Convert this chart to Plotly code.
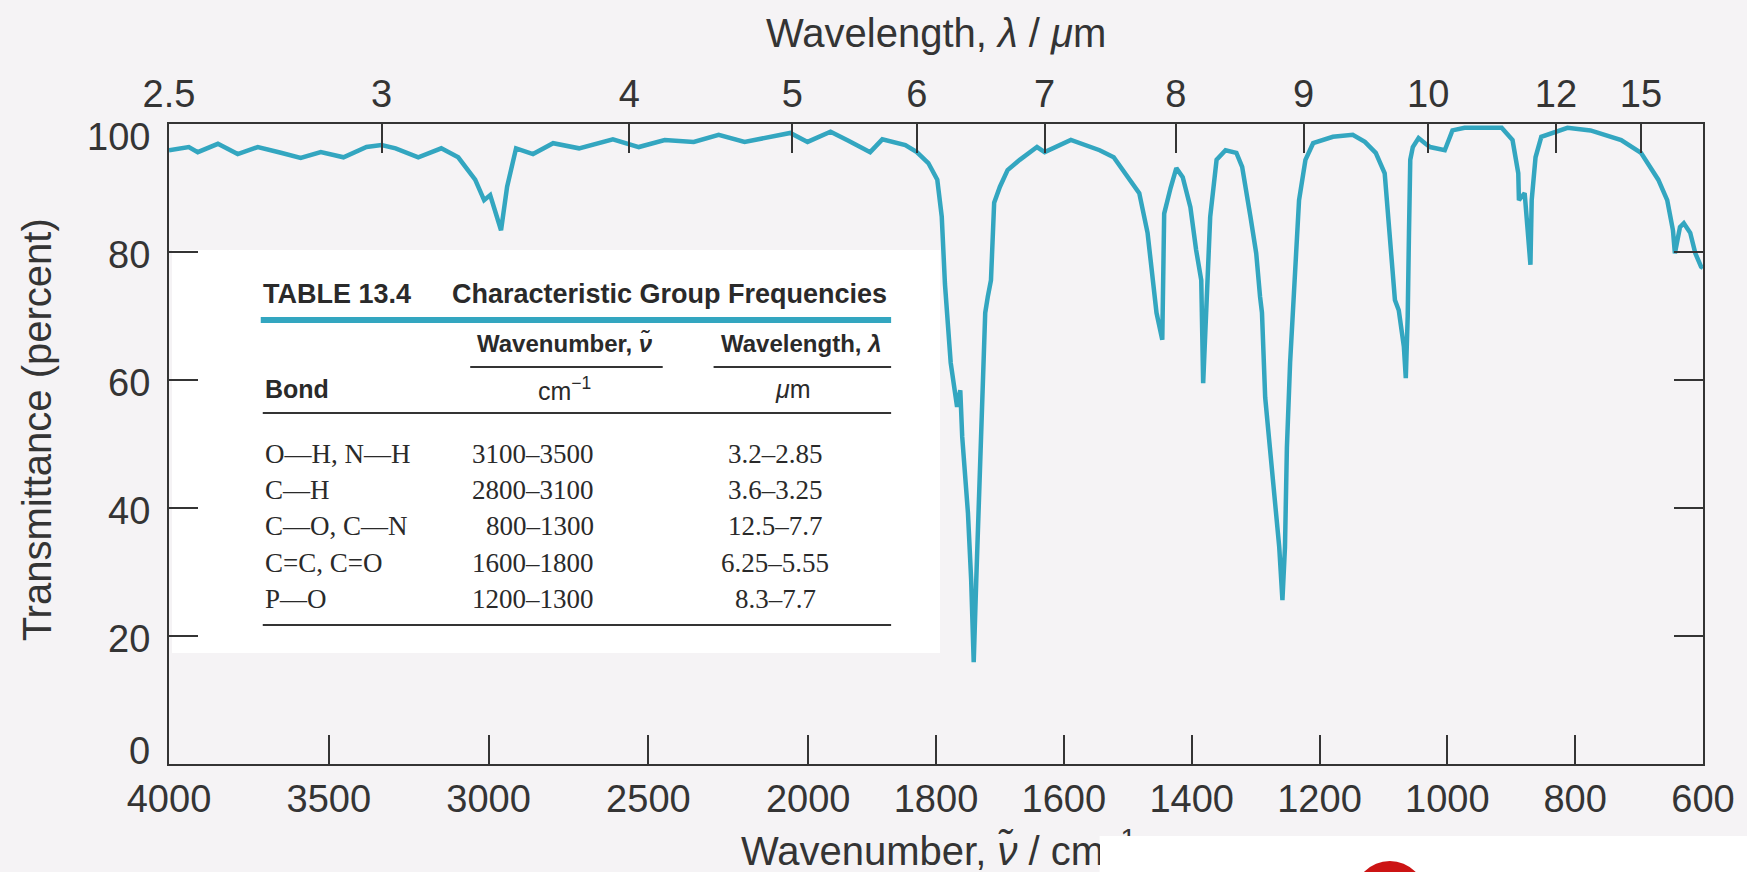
import numpy as np
import plotly.graph_objects as go

# ---------------------------------------------------------------- data
# IR transmission spectrum, traced point by point (wavenumber in cm^-1, T in %)
wavenumber = [
    4000, 3938, 3910, 3847, 3785, 3722, 3650, 3588, 3525, 3454, 3382, 3335, 3291,
    3220, 3148, 3095, 3042, 3014, 2995, 2961, 2942, 2914, 2861, 2798, 2717, 2611,
    2530, 2449, 2358, 2280, 2199, 2090, 2056, 2002, 1965, 1937, 1903, 1884, 1848,
    1830, 1812, 1798, 1791, 1786, 1777, 1767, 1762, 1759, 1750, 1745, 1741, 1737,
    1732, 1728, 1723, 1719, 1714, 1709, 1700, 1688, 1669, 1642, 1630, 1589, 1544,
    1522, 1500, 1482, 1469, 1460, 1455, 1446, 1443, 1433, 1424, 1414, 1402, 1393,
    1388, 1385, 1382, 1375, 1371, 1361, 1347, 1330, 1321, 1308, 1299, 1293, 1290,
    1285, 1277, 1268, 1263, 1258, 1254, 1251, 1246, 1242, 1237, 1232, 1222, 1210,
    1179, 1148, 1129, 1112, 1098, 1090, 1082, 1076, 1068, 1065, 1062, 1060, 1058,
    1054, 1045, 1035, 1027, 1004, 992, 973, 915, 898, 889, 888, 879, 874, 870, 868,
    862, 853, 812, 776, 728, 697, 670, 656, 647, 644, 636, 630, 620, 612, 603, 600,
]
transmittance = [
    95.9, 96.4, 95.6, 96.9, 95.3, 96.4, 95.5, 94.7, 95.6, 94.8, 96.4, 96.7, 96.2,
    94.8, 96.2, 94.8, 91.3, 88.1, 88.9, 83.4, 90.2, 96.2, 95.3, 97.0, 96.2, 97.6,
    96.4, 97.5, 97.2, 98.3, 97.2, 98.3, 98.6, 97.2, 98.8, 97.4, 95.6, 97.6, 96.7,
    95.6, 93.9, 91.3, 85.5, 75.0, 62.7, 55.8, 58.4, 51.1, 39.2, 28.8, 15.9, 28.8,
    44.4, 54.8, 70.5, 73.0, 75.6, 87.7, 90.2, 92.8, 94.4, 96.4, 95.6, 97.5, 95.9,
    94.8, 91.7, 89.2, 83.0, 75.2, 70.5, 66.3, 86.0, 90.0, 93.1, 91.7, 87.0, 80.3,
    77.7, 75.6, 59.5, 78.8, 85.5, 94.4, 95.9, 95.5, 93.3, 85.5, 79.8, 73.0, 70.5,
    57.3, 49.5, 39.2, 33.9, 25.6, 33.9, 49.5, 62.7, 70.0, 76.0, 88.1, 94.4, 97.0,
    98.0, 98.3, 97.2, 95.5, 92.3, 83.0, 72.5, 70.9, 65.2, 60.3, 70.0, 83.0, 94.4,
    96.4, 97.8, 97.0, 96.4, 95.9, 99.0, 99.4, 99.4, 97.5, 92.3, 88.1, 89.2, 83.0, 78.0, 88.1,
    94.8, 98.0, 99.4, 99.0, 97.5, 95.5, 91.3, 88.1, 83.4, 79.8, 83.9, 84.5, 83.0, 79.8, 77.7, 77.5,
]

# bottom axis: wavenumber ticks
wavenumber_ticks = [4000, 3500, 3000, 2500, 2000, 1800, 1600, 1400, 1200, 1000, 800, 600]
# top axis: wavelength labels and the wavenumbers where they are printed
wavelength_labels = ["2.5", "3", "4", "5", "6", "7", "8", "9", "10", "12", "15"]
wavelength_label_wavenumber = [4000, 3335, 2560, 2050, 1830, 1630, 1425, 1225, 1030, 830, 697]
# left axis
transmittance_ticks = [0, 20, 40, 60, 80, 100]

# Table 13.4
table_bonds = ["O\u2014H, N\u2014H", "C\u2014H", "C\u2014O, C\u2014N", "C=C, C=O", "P\u2014O"]
table_wavenumbers = ["3100\u20133500", "2800\u20133100", "800\u20131300", "1600\u20131800", "1200\u20131300"]
table_wavelengths = ["3.2\u20132.85", "3.6\u20133.25", "12.5\u20137.7", "6.25\u20135.55", "8.3\u20137.7"]


# ---------------------------------------------------------------- scales
def axis_pos(nu):
    """Grating-change abscissa: 4000-2000 cm^-1 at half the scale of 2000-600."""
    nu = np.asarray(nu, dtype=float)
    return np.where(nu >= 2000, (4000 - nu) / 2.0, 1000 + (2000 - nu))


W, H = 1747, 872
PL, PR, PT, PB = 169, 1707, 124, 764  # plot-area edges in pixels
X_RANGE = [0, 2400]


def fx(px):
    return (px - PL) / (PR - PL)


def fy(py):
    return (PB - py) / (PB - PT)


INK = "#343434"
TEAL = "#33a6c0"
PAPER = "#f5f3f5"
SANS = "Liberation Sans, Arial, Helvetica, sans-serif"
SERIF = "Liberation Serif, Times New Roman, serif"

fig = go.Figure()
fig.add_trace(go.Scatter(
    x=axis_pos(wavenumber), y=transmittance, mode="lines",
    line=dict(color=TEAL, width=4.5), hoverinfo="skip", showlegend=False,
))
# carrier trace so the top wavelength axis is drawn
fig.add_trace(go.Scatter(
    x=axis_pos(wavenumber), y=transmittance, xaxis="x2", mode="markers",
    marker=dict(opacity=0), hoverinfo="skip", showlegend=False,
))

axis_common = dict(
    showgrid=False, zeroline=False, showline=True, linecolor=INK, linewidth=2,
    ticks="inside", ticklen=29, tickwidth=2, tickcolor=INK,
    tickfont=dict(family=SANS, size=38, color=INK),
)
fig.update_layout(
    width=W, height=H, autosize=False,
    margin=dict(l=PL, r=W - PR, t=PT, b=H - PB, pad=0),
    paper_bgcolor=PAPER, plot_bgcolor=PAPER,
    xaxis=dict(range=X_RANGE, tickmode="array",
               tickvals=axis_pos(wavenumber_ticks).tolist(),
               ticktext=[str(v) for v in wavenumber_ticks], **axis_common),
    xaxis2=dict(range=X_RANGE, overlaying="x", side="top", anchor="y", tickmode="array",
                tickvals=axis_pos(wavelength_label_wavenumber).tolist(),
                ticktext=wavelength_labels, **axis_common),
    yaxis=dict(range=[0, 100], tickmode="array", tickvals=[20, 40, 60, 80],
               showticklabels=False, mirror="ticks", **axis_common),
)

annotations = []
shapes = []

# y tick labels (end labels sit inside the frame)
for v in transmittance_ticks:
    shift = -13 if v == 100 else (13 if v == 0 else -3)
    annotations.append(dict(
        x=fx(152), xref="paper", xanchor="right", y=v, yref="y", yanchor="middle",
        yshift=shift, text=str(v), showarrow=False,
        font=dict(family=SANS, size=38, color=INK),
    ))

# axis titles
annotations.append(dict(
    x=0.5, xref="paper", y=fy(33), yref="paper", xanchor="center", yanchor="middle",
    text="Wavelength, <i>\u03bb</i> / <i>\u03bc</i>m", showarrow=False,
    font=dict(family=SANS, size=40, color=INK),
))
annotations.append(dict(
    x=fx(37), xref="paper", y=fy(430), yref="paper", xanchor="center", yanchor="middle",
    text="Transmittance (percent)", textangle=-90, showarrow=False,
    font=dict(family=SANS, size=40, color=INK),
))
annotations.append(dict(
    x=fx(740), xref="paper", y=fy(848), yref="paper", xanchor="left", yanchor="middle",
    text="Wavenumber, <i>\u03bd\u0303</i> / cm<sup>\u22121</sup>", showarrow=False,
    font=dict(family=SANS, size=40, color=INK),
))
# white patch over the end of the lower title
annotations.append(dict(
    x=fx(1102), xref="paper", y=fy(872), yref="paper", xanchor="left", yanchor="bottom",
    text=" ", width=160, height=36, bgcolor="#ffffff", borderpad=0, borderwidth=0,
    showarrow=False,
))
shapes.append(dict(type="rect", xref="paper", yref="paper", layer="above",
                   x0=fx(1102), x1=fx(1760), y0=fy(836), y1=fy(880),
                   fillcolor="#ffffff", line=dict(width=0)))
shapes.append(dict(type="circle", xref="paper", yref="paper", layer="above",
                   x0=fx(1357), x1=fx(1429), y0=fy(861), y1=fy(933),
                   fillcolor="#cc1414", line=dict(width=0)))

# ---------------------------------------------------------------- table
shapes.append(dict(type="rect", xref="paper", yref="paper", layer="below",
                   x0=fx(172), x1=fx(942), y0=fy(250), y1=fy(653),
                   fillcolor="#ffffff", line=dict(width=0)))


def hline(y, x0, x1, width, color=INK):
    shapes.append(dict(type="line", xref="paper", yref="paper",
                       x0=fx(x0), x1=fx(x1), y0=fy(y), y1=fy(y),
                       line=dict(color=color, width=width)))


def text(x, y, s, anchor, size, family=SANS, bold=False):
    annotations.append(dict(
        x=fx(x), xref="paper", y=fy(y), yref="paper", xanchor=anchor, yanchor="middle",
        text=f"<b>{s}</b>" if bold else s, showarrow=False,
        font=dict(family=family, size=size, color="#2a2a2a"),
    ))


text(261, 294, "TABLE 13.4", "left", 27, bold=True)
text(891, 294, "Characteristic Group Frequencies", "right", 27, bold=True)
hline(320, 261, 893, 6, TEAL)
text(566, 343, "Wavenumber, <i>\u03bd\u0303</i>", "center", 24, bold=True)
text(803, 343, "Wavelength, <i>\u03bb</i>", "center", 24, bold=True)
hline(367, 471, 664, 2)
hline(367, 715, 893, 2)
text(263, 389, "Bond", "left", 25, bold=True)
text(566, 389, "cm<sup>\u22121</sup>", "center", 25)
text(795, 389, "<i>\u03bc</i>m", "center", 25)
hline(413, 263, 893, 2)
row_y = [454, 490, 526, 563, 599]
for yy, b, wn, wl in zip(row_y, table_bonds, table_wavenumbers, table_wavelengths):
    text(263, yy, b, "left", 27, family=SERIF)
    text(597, yy, wn, "right", 27, family=SERIF)
    text(777, yy, wl, "center", 27, family=SERIF)
hline(625, 263, 893, 2)

fig.update_layout(annotations=annotations, shapes=shapes)
fig.write_html("out.html")
